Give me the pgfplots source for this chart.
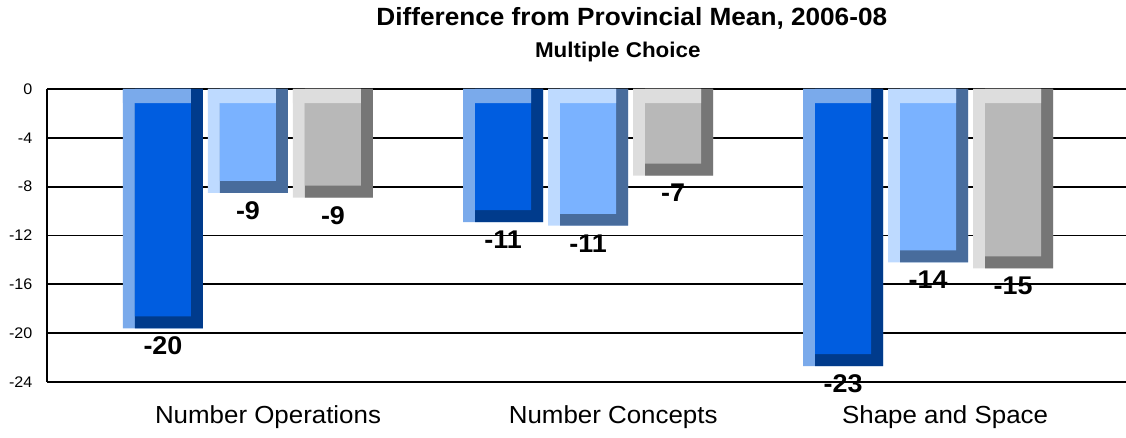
\documentclass[border=0pt]{standalone}
\usepackage{fontspec}
\setmainfont{Liberation Sans}[FakeStretch=1.05]
\usepackage{pgfplots}
\usepackage{pgfplotstable}
\pgfplotsset{compat=1.18}
\definecolor{aL}{HTML}{7AAAEB}\definecolor{aD}{HTML}{003B8C}\definecolor{aF}{HTML}{005DE0}
\definecolor{bL}{HTML}{BEDAFF}\definecolor{bD}{HTML}{486C9C}\definecolor{bF}{HTML}{7AB2FF}
\definecolor{cL}{HTML}{DDDDDD}\definecolor{cD}{HTML}{767676}\definecolor{cF}{HTML}{B8B8B8}
\pgfplotstableread{
x a b c la lb lc
0 -19.6 -8.5 -8.9 -20 -9 -9
1 -10.9 -11.2 -7.1 -11 -11 -7
2 -22.7 -14.2 -14.7 -23 -14 -15
}\data
\pgfplotsset{
 lbl/.style={nodes near coords, point meta=explicit symbolic,
   every node near coord/.append style={anchor=north, yshift=-3pt, font=\bfseries\fontsize{19.2}{21}\selectfont, text=black}},
}
\begin{document}
\begin{tikzpicture}
\begin{axis}[
 scale only axis, width=809.25pt, height=219.75pt,
 xmin=-0.591, xmax=2.582, ymin=-24, ymax=0,
 ytick={-24,-20,...,0},
 xtick={0.059,1.074,2.05},
 xticklabels={Number Operations,Number Concepts,Shape and Space},
 axis x line*=bottom, axis y line*=left,
 axis line style={black, line width=1.4pt, -},
 ymajorgrids, grid style={black, line width=1.4pt},
 major tick length=0pt,
 ybar, bar width=60pt,
 clip=false,
 /pgf/number format/assume math mode=true,
 yticklabel style={font=\fontsize{11.5}{13}\selectfont, xshift=-7.5pt},
 xticklabel style={font=\fontsize{18.5}{21}\selectfont, yshift=-14.2pt},
]
% series A
\addplot[fill=aL, draw=none, bar shift=-63.75pt, bar width=60pt, lbl] table[x=x,y=a,meta=la]{\data};
\addplot[fill=aD, draw=none, bar shift=-59.25pt, bar width=51pt] table[x=x,y=a]{\data};
\addplot[fill=aF, draw=none, bar shift=-63.75pt, bar width=42pt] table[x=x,y expr=\thisrow{a}+0.98]{\data};
\addplot[fill=aL, draw=none, bar shift=-68.25pt, bar width=51pt] table[x=x,y expr=-1.15]{\data};
% series B
\addplot[fill=bL, draw=none, bar shift=0pt, bar width=60pt, lbl] table[x=x,y=b,meta=lb]{\data};
\addplot[fill=bD, draw=none, bar shift=4.5pt, bar width=51pt] table[x=x,y=b]{\data};
\addplot[fill=bF, draw=none, bar shift=0pt, bar width=42pt] table[x=x,y expr=\thisrow{b}+0.98]{\data};
\addplot[fill=bL, draw=none, bar shift=-4.5pt, bar width=51pt] table[x=x,y expr=-1.15]{\data};
% series C
\addplot[fill=cL, draw=none, bar shift=63.75pt, bar width=60pt, lbl] table[x=x,y=c,meta=lc]{\data};
\addplot[fill=cD, draw=none, bar shift=68.25pt, bar width=51pt] table[x=x,y=c]{\data};
\addplot[fill=cF, draw=none, bar shift=63.75pt, bar width=42pt] table[x=x,y expr=\thisrow{c}+0.98]{\data};
\addplot[fill=cL, draw=none, bar shift=59.25pt, bar width=51pt] table[x=x,y expr=-1.15]{\data};
\node[anchor=base, font=\bfseries\fontsize{18.7}{21}\selectfont, yshift=47.6pt] at (rel axis cs:0.542,1) {Difference from Provincial Mean, 2006-08};
\node[anchor=base, font=\bfseries\fontsize{16}{19}\selectfont, yshift=23.8pt] at (rel axis cs:0.529,1) {Multiple Choice};
\end{axis}
\pgfresetboundingbox
\path ([shift={(-35.25pt,-42pt)}]current axis.south west) rectangle ([shift={(0pt,66.75pt)}]current axis.north east);
\end{tikzpicture}
\end{document}
